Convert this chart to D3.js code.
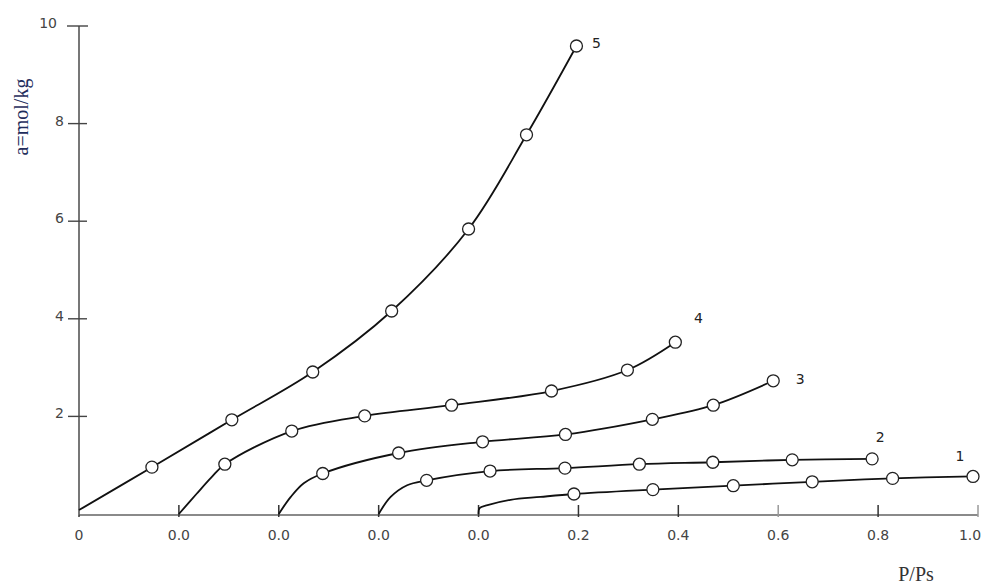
<!DOCTYPE html>
<html>
<head>
<meta charset="utf-8">
<script src="https://cdn.jsdelivr.net/npm/d3@7/dist/d3.min.js"></script>
<style>
  html, body { margin: 0; padding: 0; background: #fff; }
  svg { display: block; }
</style>
</head>
<body>
<svg id="chart" width="982" height="585"></svg>
<script>
// ---- Data (relative pressure P/Ps within each curve, adsorption a, mol/kg) ----
const curveNames = ["1", "2", "3", "4", "5"];
// shift of each curve's origin along the x axis (curves are staggered by 0.2)
const curveOffsets = [0, -0.2, -0.4, -0.6, -0.8];

// line lead-in readings (no markers)
const leadP = [
  [0, 0.002, 0.018, 0.064, 0.124],
  [0, 0.024, 0.057],
  [0, 0.024, 0.05],
  [0, 0.036, 0.066],
  [0]
];
const leadA = [
  [0, 0.12, 0.18, 0.29, 0.35],
  [0, 0.35, 0.59],
  [0, 0.35, 0.63],
  [0, 0.42, 0.76],
  [0.08]
];

// measured points (circle markers)
const p1 = [0.191, 0.349, 0.51, 0.668, 0.829, 0.99];
const a1 = [0.41, 0.50, 0.58, 0.66, 0.73, 0.77];
const p2 = [0.096, 0.223, 0.373, 0.522, 0.669, 0.828, 0.988];
const a2 = [0.69, 0.88, 0.94, 1.02, 1.06, 1.11, 1.13];
const p3 = [0.088, 0.24, 0.408, 0.574, 0.748, 0.87, 0.99];
const a3 = [0.83, 1.25, 1.48, 1.63, 1.94, 2.23, 2.73];
const p4 = [0.092, 0.226, 0.372, 0.546, 0.746, 0.898, 0.994];
const a4 = [1.02, 1.70, 2.01, 2.23, 2.52, 2.95, 3.52];
const p5 = [0.146, 0.306, 0.468, 0.626, 0.78, 0.896, 0.996];
const a5 = [0.96, 1.93, 2.91, 4.16, 5.84, 7.77, 9.59];

const pointP = [p1, p2, p3, p4, p5];
const pointA = [a1, a2, a3, a4, a5];

// axis ticks
const xTickValues = [-0.8, -0.6, -0.4, -0.2, 0, 0.2, 0.4, 0.6, 0.8, 1.0];
const xTickLabels = ["0", "0.0", "0.0", "0.0", "0.0", "0.2", "0.4", "0.6", "0.8", "1.0"];
const yTickValues = [2, 4, 6, 8, 10];
const yTickLabels = ["2", "4", "6", "8", "10"];

// ---- Layout ----
const svg = d3.select("#chart");
const x = d3.scaleLinear().domain([-0.8, 1.0]).range([79, 978]);
const y = d3.scaleLinear().domain([0, 10]).range([514, 26]);

// label offsets (px) from the last point of each curve
const labelDx = [-13, 8, 27, 23, 20];
const labelDy = [-20, -22, -2, -24, -3];

// ---- Axes ----
const gx = svg.append("g").attr("transform", `translate(0,${y(0) + 1})`);
gx.append("line")
  .attr("x1", x(-0.8)).attr("x2", x(1.0))
  .attr("stroke", "#8a8a8a").attr("stroke-width", 2);
const xt = gx.selectAll("g.xt").data(xTickValues).enter().append("g")
  .attr("transform", d => `translate(${x(d)},0)`);
xt.append("line")
  .attr("y1", (d, i) => i === 0 ? 0 : -10).attr("y2", 2)
  .attr("stroke", (d, i) => (d === 0.6 || d === 1.0) ? "#9a9a9a" : "#333")
  .attr("stroke-width", 1.5);
xt.append("text")
  .attr("y", 25)
  .attr("x", (d, i) => i === xTickValues.length - 1 ? -8 : 0)
  .attr("text-anchor", "middle")
  .attr("font-family", "DejaVu Sans, sans-serif")
  .attr("font-size", 14)
  .attr("fill", "#444")
  .text((d, i) => xTickLabels[i]);

const gy = svg.append("g").attr("transform", `translate(${x(-0.8)},0)`);
gy.append("line")
  .attr("y1", y(10)).attr("y2", y(0) + 1)
  .attr("stroke", "#555").attr("stroke-width", 1.6);
const yt = gy.selectAll("g.yt").data(yTickValues).enter().append("g")
  .attr("transform", d => `translate(0,${y(d)})`);
yt.append("line")
  .attr("x1", d => d === 10 ? -12 : -11).attr("x2", d => d === 10 ? 9 : 8)
  .attr("stroke", "#444").attr("stroke-width", 1.4);
yt.append("text")
  .attr("x", d => d === 10 ? -22 : -15)
  .attr("y", -3)
  .attr("dy", "0.35em")
  .attr("text-anchor", "end")
  .attr("font-family", "DejaVu Sans, sans-serif")
  .attr("font-size", 14)
  .attr("fill", "#444")
  .text((d, i) => yTickLabels[i]);

// axis titles
svg.append("text")
  .attr("transform", "translate(28,117) rotate(-90)")
  .attr("text-anchor", "middle")
  .attr("font-family", "Liberation Serif, Times New Roman, serif")
  .attr("font-size", 20)
  .attr("fill", "#1f2d5c")
  .text("a=mol/kg");
svg.append("text")
  .attr("x", 916).attr("y", 581)
  .attr("text-anchor", "middle")
  .attr("font-family", "Liberation Serif, Times New Roman, serif")
  .attr("font-size", 20)
  .attr("fill", "#333")
  .text("P/Ps");

// ---- Curves ----
const line = d3.line()
  .x(d => x(d.p))
  .y(d => y(d.a))
  .curve(d3.curveCatmullRom.alpha(0.5));

curveNames.forEach((name, i) => {
  const off = curveOffsets[i];
  const lead = leadP[i].map((p, j) => ({ p: p + off, a: leadA[i][j] }));
  const pts = pointP[i].map((p, j) => ({ p: p + off, a: pointA[i][j] }));
  const all = lead.concat(pts);
  const g = svg.append("g");
  g.append("path")
    .datum(all)
    .attr("d", line)
    .attr("fill", "none")
    .attr("stroke", "#111")
    .attr("stroke-width", 1.8);
  g.selectAll("circle").data(pts).enter().append("circle")
    .attr("cx", d => x(d.p))
    .attr("cy", d => y(d.a))
    .attr("r", 6)
    .attr("fill", "#fff")
    .attr("stroke", "#222")
    .attr("stroke-width", 1.3);
  const last = pts[pts.length - 1];
  g.append("text")
    .attr("x", x(last.p) + labelDx[i])
    .attr("y", y(last.a) + labelDy[i])
    .attr("dy", "0.35em")
    .attr("text-anchor", "middle")
    .attr("font-family", "DejaVu Sans, sans-serif")
    .attr("font-size", 14)
    .attr("fill", "#222")
    .text(name);
});
</script>
</body>
</html>
